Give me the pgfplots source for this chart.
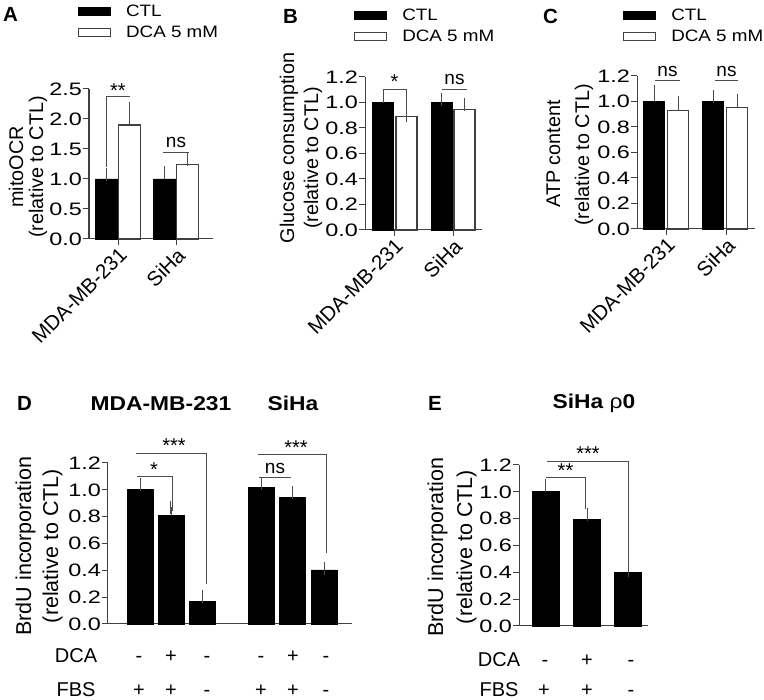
\documentclass[border=0pt]{standalone}
\usepackage{fontspec}
\setmainfont{Liberation Sans}
\newfontfamily\tickfont{Liberation Sans}[FakeStretch=1.3]
\newfontfamily\wfont{Liberation Sans}[FakeStretch=1.14]
\usepackage{pgfplots}
\pgfplotsset{compat=1.18}
\definecolor{axgray}{gray}{0.25}
\definecolor{errgray}{gray}{0.3}
\definecolor{brkgray}{gray}{0.3}

\pgfplotsset{
  panel/.style={
    scale only axis, clip=false,
    axis x line*=bottom, axis y line*=left,
    axis line style={-, draw=axgray, line width=1pt},
    tick style={draw=axgray, line width=1pt},
    tick align=outside, major tick length=6pt,
    xmin=0, ymin=0, enlargelimits=false,
    /pgf/number format/fixed,
    /pgf/number format/fixed zerofill,
    /pgf/number format/precision=1,
    /pgf/number format/assume math mode=true,
    yticklabel style={font=\tickfont\fontsize{18}{20}\selectfont, inner sep=1pt},
    xticklabel style={font=\fontsize{20.5}{22}\selectfont, rotate=45, anchor=north east, inner sep=1pt},
    ybar, bar shift=0pt,
    error bars/y dir=plus, error bars/y explicit,
    error bars/error bar style={draw=errgray, line width=1pt},
    error bars/error mark options={draw=errgray, line width=1pt, mark size=6.5pt},
    legend cell align=left,
    legend image code/.code={\draw[##1] (0pt,-4pt) rectangle (32pt,4pt);},
  },
  leg/.style={legend style={draw=none, fill=none, inner sep=0pt,
      font=\wfont\fontsize{16.5}{18}\selectfont, row sep=6pt,
      nodes={inner sep=1pt},
      /tikz/every odd column/.append style={column sep=14pt}}},
  blk/.style={fill=black, draw=black, line width=0.8pt},
  wht/.style={fill=white, draw=axgray, line width=1.1pt},
}
\tikzset{
  brk/.style={draw=brkgray, line width=0.8pt},
  star/.style={anchor=base, font=\fontsize{20}{22}\selectfont, inner sep=0pt},
  ns/.style={anchor=base, font=\fontsize{19}{21}\selectfont, inner sep=0pt, yshift=4pt},
  ylab/.style={rotate=90, anchor=base, font=\fontsize{19.8}{21}\selectfont, inner sep=0pt},
  ylabD/.style={rotate=90, anchor=base, font=\fontsize{21.5}{23}\selectfont, inner sep=0pt},
  letter/.style={anchor=base west, font=\bfseries\fontsize{20.5}{22}\selectfont, inner sep=0pt},
  ttl/.style={anchor=base, font=\wfont\bfseries\fontsize{20}{22}\selectfont, inner sep=0pt},
  row/.style={anchor=base, font=\fontsize{20}{22}\selectfont, inner sep=0pt},
}

\begin{document}
\begin{tikzpicture}
\useasboundingbox (0pt,0pt) rectangle (764pt,700pt);

% ---------------- Panel A ----------------
\begin{axis}[panel, leg, at={(89pt,461pt)}, anchor=south west,
  width=124pt, height=150pt, xmax=124, ymax=2.5,
  ytick={0,0.5,1,1.5,2,2.5}, xtick={29,87}, xticklabels={MDA-MB-231,SiHa},
  bar width=22,
  legend style={at={(axis description cs:-0.09,1.567)}, anchor=north west}]
\addplot[blk] coordinates {(17.5,1.0) +- (0,0.07) (75.5,1.0) +- (0,0.10)};
\addplot[wht] coordinates {(40.5,1.90) +- (0,0.27) (98.5,1.24) +- (0,0.08)};
\legend{CTL, DCA 5 mM}
\draw[brk] (axis cs:17,1.2) -- (axis cs:17,2.37) -- (axis cs:41,2.37);
\node[star, yshift=-1pt] at (axis cs:29,2.37) {**};
\draw[brk] (axis cs:74,1.45) -- (axis cs:100,1.45);
\node[ns] at (axis cs:87,1.45) {ns};
\end{axis}

% ---------------- Panel B ----------------
\begin{axis}[panel, leg, at={(365pt,470pt)}, anchor=south west,
  width=117pt, height=153pt, xmax=117, ymax=1.2,
  ytick={0,0.2,0.4,0.6,0.8,1.0,1.2}, xtick={29,88}, xticklabels={MDA-MB-231,SiHa},
  bar width=21,
  legend style={at={(axis description cs:-0.094,1.45)}, anchor=north west}]
\addplot[blk] coordinates {(18,1.0) +- (0,0.045) (76.5,1.0) +- (0,0.02)};
\addplot[wht] coordinates {(41.5,0.89) +- (0,0.005) (99.5,0.948) +- (0,0.04)};
\legend{CTL, DCA 5 mM}
\draw[brk] (axis cs:18,1.106) -- (axis cs:41.5,1.106) -- (axis cs:41.5,0.90);
\node[star] at (axis cs:29.5,1.106) {*};
\draw[brk] (axis cs:77,1.106) -- (axis cs:102,1.106);
\node[ns] at (axis cs:89.5,1.106) {ns};
\end{axis}

% ---------------- Panel C ----------------
\begin{axis}[panel, leg, at={(637pt,471pt)}, anchor=south west,
  width=118pt, height=153pt, xmax=118, ymax=1.2,
  ytick={0,0.2,0.4,0.6,0.8,1.0,1.2}, xtick={29,89}, xticklabels={MDA-MB-231,SiHa},
  bar width=21,
  legend style={at={(axis description cs:-0.119,1.445)}, anchor=north west}]
\addplot[blk] coordinates {(17,1.0) +- (0,0.08) (76,1.0) +- (0,0.04)};
\addplot[wht] coordinates {(41,0.93) +- (0,0.06) (100,0.956) +- (0,0.05)};
\legend{CTL, DCA 5 mM}
\draw[brk] (axis cs:18,1.163) -- (axis cs:43,1.163);
\node[ns] at (axis cs:30.5,1.163) {ns};
\draw[brk] (axis cs:78,1.163) -- (axis cs:101,1.163);
\node[ns] at (axis cs:89.5,1.163) {ns};
\end{axis}

% ---------------- Panel D ----------------
\begin{axis}[panel, at={(108pt,76pt)}, anchor=south west,
  width=244pt, height=161pt, xmax=244, ymax=1.2,
  ytick={0,0.2,0.4,0.6,0.8,1.0,1.2}, xtick=\empty, bar width=26]
\addplot[blk] coordinates {(32,1.0) +- (0,0.04) (63,0.81) +- (0,0.06) (94.5,0.168) +- (0,0.037)
  (153,1.015) +- (0,0.032) (184.5,0.94) +- (0,0.04) (216,0.403) +- (0,0.01)};
\draw[brk] (axis cs:29,1.097) -- (axis cs:64,1.097) -- (axis cs:64,0.84);
\node[star] at (axis cs:46,1.097) {*};
\draw[brk] (axis cs:28,1.275) -- (axis cs:98,1.275) -- (axis cs:98,0.30);
\node[star] at (axis cs:66,1.275) {***};
\draw[brk] (axis cs:151,1.09) -- (axis cs:183,1.09);
\node[ns] at (axis cs:167,1.09) {ns};
\draw[brk] (axis cs:150,1.265) -- (axis cs:218,1.265) -- (axis cs:218,0.527);
\node[star] at (axis cs:188,1.265) {***};
\end{axis}

% ---------------- Panel E ----------------
\begin{axis}[panel, at={(519pt,74pt)}, anchor=south west,
  width=129pt, height=161pt, xmax=129, ymax=1.2,
  ytick={0,0.2,0.4,0.6,0.8,1.0,1.2}, xtick=\empty, bar width=27]
\addplot[blk] coordinates {(26.5,1.0) +- (0,0.047) (68,0.793) +- (0,0.037) (109,0.40) +- (0,0.014)};
\draw[brk] (axis cs:27,1.105) -- (axis cs:66,1.105) -- (axis cs:66,0.87);
\node[star] at (axis cs:46.5,1.105) {**};
\draw[brk] (axis cs:28,1.23) -- (axis cs:109,1.23) -- (axis cs:109,0.43);
\node[star] at (axis cs:69,1.23) {***};
\end{axis}

% ---------------- texts ----------------
\node[letter] at (3pt,678pt) {A};
\node[letter] at (283pt,676pt) {B};
\node[letter] at (543pt,676pt) {C};
\node[letter] at (17pt,289pt) {D};
\node[letter] at (428pt,289pt) {E};

\node[ylab] at (23pt,533pt) {mitoOCR};
\node[ylab] at (43pt,533pt) {(relative to CTL)};
\node[ylab] at (294pt,552pt) {Glucose consumption};
\node[ylab] at (318pt,542pt) {(relative to CTL)};
\node[ylab] at (560pt,546pt) {ATP content};
\node[ylab] at (589pt,545pt) {(relative to CTL)};
\node[ylabD] at (31pt,154pt) {BrdU incorporation};
\node[ylabD] at (58pt,154pt) {(relative to CTL)};
\node[ylabD] at (443pt,153pt) {BrdU incorporation};
\node[ylabD] at (472pt,153pt) {(relative to CTL)};

\node[ttl] at (161pt,289pt) {MDA-MB-231};
\node[ttl] at (293pt,289pt) {SiHa};
\node[ttl] at (594pt,291pt) {SiHa {\mdseries ρ}0};

\node[row] at (76pt,37pt) {DCA};
\node[row] at (76pt,3pt) {FBS};
\foreach \x/\s in {139/-,171/+,207/-,261/-,293/+,326/-} {\node[row] at (\x pt,37pt) {\s};}
\foreach \x/\s in {139/+,171/+,207/-,261/+,293/+,326/-} {\node[row] at (\x pt,3pt) {\s};}
\node[row] at (499pt,33pt) {DCA};
\node[row] at (499pt,3pt) {FBS};
\foreach \x/\s in {545/-,587/+,631/-} {\node[row] at (\x pt,33pt) {\s};}
\foreach \x/\s in {544/+,587/+,631/-} {\node[row] at (\x pt,3pt) {\s};}
\end{tikzpicture}
\end{document}
